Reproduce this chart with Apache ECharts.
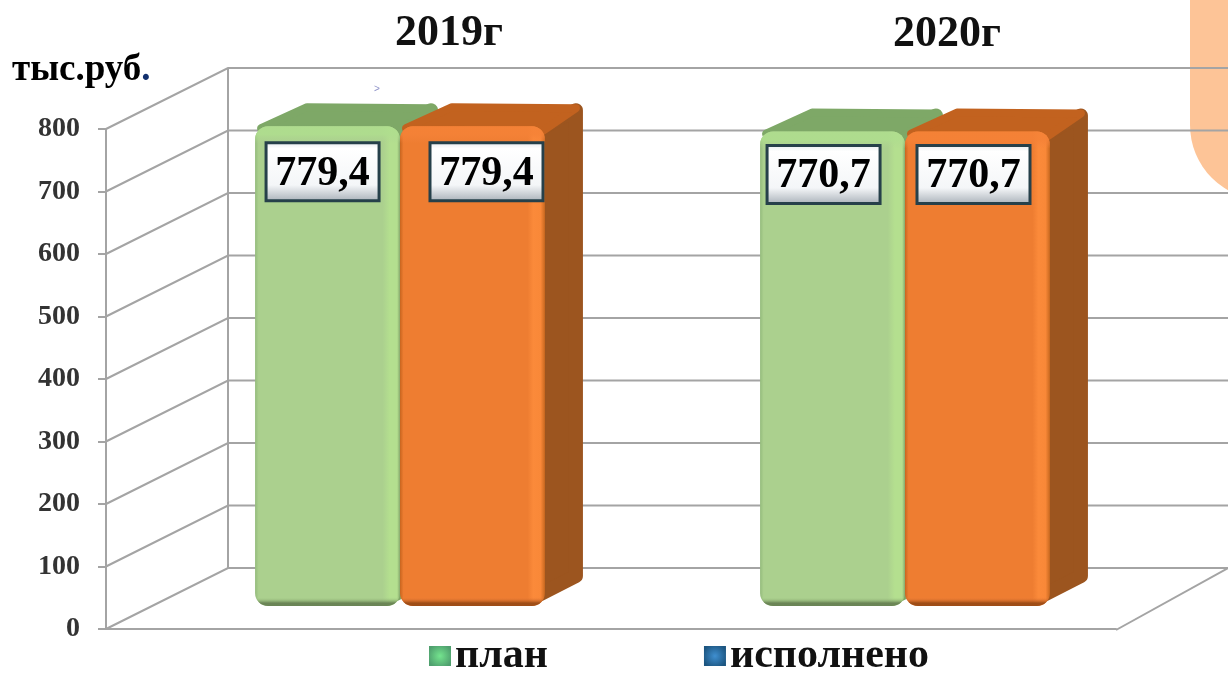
<!DOCTYPE html>
<html><head><meta charset="utf-8">
<style>html,body{margin:0;padding:0;background:#fff}#c{width:1228px;height:673px}</style>
<script src="https://cdn.jsdelivr.net/npm/echarts@6/dist/echarts.min.js"></script>
</head><body><div id="c"></div>
<script>
const categories = ['2019г', '2020г'];
const planValues = [779.4, 770.7];
const doneValues = [779.4, 770.7];
const yTicks = [0, 100, 200, 300, 400, 500, 600, 700, 800];
const seriesNames = ['план', 'исполнено'];
const unitLabel = 'тыс.руб';

const SERIF = '"Liberation Serif","Times New Roman",serif';
const WALL = [122, -61];      // depth of the back wall
const BAR_D = [46, -23];      // offset of bar front plane from the front axis plane
const BAR_DEPTH = [38, -23];  // depth of each bar
const GRID = '#a4a4a4';
const LABEL_DX = {plan: [11, 7], done: [30, 12]};
const LABEL_DY = [16.5, 14];

const chart = echarts.init(document.getElementById('c'), null, {renderer: 'canvas'});
const lg = (stops, horiz) => ({type: 'linear', x: 0, y: 0, x2: horiz ? 1 : 0, y2: horiz ? 0 : 1,
  colorStops: stops.map(s => ({offset: s[0], color: s[1]}))});
const rg = (inner, outer) => ({type: 'radial', x: 0.5, y: 0.5, r: 0.62,
  colorStops: [{offset: 0, color: inner}, {offset: 1, color: outer}]});

function renderWalls(params, api) {
  const v = api.value(0);
  const p = api.coord([0, v]);
  const x0 = params.coordSys.x, xr = params.coordSys.x + params.coordSys.width;
  const y = p[1];
  const line = {stroke: GRID, lineWidth: 2, fill: null};
  const ch = [
    {type: 'polyline', shape: {points: [[x0, y], [x0 + WALL[0], y + WALL[1]], [1228, y + WALL[1]]]}, style: line}
  ];
  if (v === 0) {
    ch.push({type: 'line', shape: {x1: xr, y1: y + 1, x2: 1228, y2: y + WALL[1]}, style: line});
    const top = api.coord([0, 800])[1];
    ch.push({type: 'line', shape: {x1: x0 + WALL[0], y1: y + WALL[1], x2: x0 + WALL[0], y2: top + WALL[1]}, style: line});
  }
  return {type: 'group', children: ch, silent: true};
}

function renderBar(pal, side, labelDx) {
  return function (params, api) {
    const cat = api.value(0), val = api.value(1);
    const base = api.coord([cat, 0]), top = api.coord([cat, val]);
    const w = api.size([1, 0])[0] * 0.287;
    const cx = base[0] + 41.5;
    const x = side < 0 ? cx - w : cx;
    const yb = base[1] + BAR_D[1];
    const yt = yb - (base[1] - top[1]) * 0.985;
    const dx = BAR_DEPTH[0], dy = BAR_DEPTH[1];
    const r = 13;
    const h = yb - yt;
    const round = (fill, lw) => ({fill, stroke: fill, lineWidth: lw || 8, lineJoin: 'round'});
    const text = String(val).replace('.', ',');
    const bw = 113, bh = 58;
    const bx = x + labelDx[cat], by = yt + LABEL_DY[cat];
    return {type: 'group', children: [
      {type: 'polygon', shape: {points: [[x + w - 10, yt + 6], [x + w + dx - 7, yt + dy + 7], [x + w + dx - 7, yb + dy - 7], [x + w - 14, yb - 7]]}, style: round(pal.side, 14)},
      {type: 'polygon', shape: {points: [[x + 6, yt + 2], [x + dx + 14, yt + dy + 4], [x + w + dx - 7, yt + dy + 5], [x + w - 4, yt + 6]]}, style: round(pal.top)},
      {type: 'rect', shape: {x: x, y: yt, width: w, height: h, r}, style: {fill: lg(pal.face, true)}},
      {type: 'rect', shape: {x: x, y: yt, width: w, height: h, r}, style: {fill: lg([[0, pal.hi], [8 / h, pal.hi], [17 / h, pal.clear], [1 - 9 / h, pal.clear], [1 - 3 / h, pal.lo], [1, pal.lo]])}},
      {type: 'rect', shape: {x: bx, y: by, width: bw, height: bh}, style: {
        fill: lg([[0, '#e4e8ec'], [0.12, '#ffffff'], [0.72, '#f4f6f8'], [1, '#a6aeb6']]), stroke: '#26404a', lineWidth: 3}},
      {type: 'text', style: {x: bx + bw / 2, y: by + bh / 2 + 2, text, align: 'center', verticalAlign: 'middle',
        font: 'bold 42px ' + SERIF, fill: '#000'}}
    ]};
  };
}

const greenPal = {side: '#7ea765', top: '#7ea867', clear: 'rgba(175,215,145,0)', hi: 'rgba(175,222,142,0.85)', lo: 'rgba(100,125,80,0.9)',
  face: [[0, '#94bb7c'], [0.025, '#abd08e'], [0.88, '#abd08e'], [0.93, '#b4df8f'], [0.98, '#b4df8f'], [1, '#86a86d']]};
const orangePal = {side: '#9c551f', top: '#c2621f', clear: 'rgba(245,130,60,0)', hi: 'rgba(245,130,55,0.85)', lo: 'rgba(150,72,20,0.9)',
  face: [[0, '#c8651f'], [0.025, '#ee7d31'], [0.88, '#ee7d31'], [0.92, '#fb8a3a'], [0.97, '#f98838'], [1, '#c8681f']]};

chart.setOption({
  animation: false,
  backgroundColor: '#fff',
  title: [
    {text: categories[0], left: 390, top: 7, textStyle: {fontFamily: SERIF, fontWeight: 'bold', fontSize: 44, color: '#111'}},
    {text: categories[1], left: 888, top: 8, textStyle: {fontFamily: SERIF, fontWeight: 'bold', fontSize: 44, color: '#111'}},
    {text: '{a|' + unitLabel + '}{b|.}', left: 7, top: 47, textStyle: {rich: {
      a: {fontFamily: SERIF, fontWeight: 'bold', fontSize: 37, color: '#000'},
      b: {fontFamily: SERIF, fontWeight: 'bold', fontSize: 37, color: '#12306e'}}}}
  ],
  legend: {
    left: 424, top: 630, itemWidth: 22, itemHeight: 20, itemGap: 156, icon: 'rect',
    textStyle: {fontFamily: SERIF, fontWeight: 'bold', fontSize: 42, color: '#111', padding: [8, 0, 0, -1]},
    data: [
      {name: seriesNames[0], itemStyle: {color: rg('#74e48e', '#4f9f6e')}},
      {name: seriesNames[1], itemStyle: {color: rg('#3f8fd0', '#1c5580')}}
    ]
  },
  grid: {left: 106, right: 112, top: 129, bottom: 44},
  xAxis: {type: 'category', data: categories, axisLine: {lineStyle: {color: GRID, width: 2}}, axisTick: {show: false}, axisLabel: {show: false}},
  yAxis: {type: 'value', min: 0, max: 800, interval: 100, splitLine: {show: false},
    axisLine: {show: true, lineStyle: {color: GRID, width: 2}},
    axisTick: {show: true, length: 8, lineStyle: {color: GRID, width: 2}},
    axisLabel: {margin: 26, fontFamily: SERIF, fontWeight: 'bold', fontSize: 28, color: '#333', padding: [4, 0, 0, 0]}},
  series: [
    {name: 'walls', type: 'custom', data: yTicks.map(v => [v]), encode: {y: 0}, renderItem: renderWalls, z: 1, clip: false, silent: true},
    {name: seriesNames[0], type: 'custom', data: planValues.map((v, i) => [i, v]), encode: {x: 0, y: 1}, renderItem: renderBar(greenPal, -1, LABEL_DX.plan), z: 3, clip: false, itemStyle: {color: '#a9d18e'}},
    {name: seriesNames[1], type: 'custom', data: doneValues.map((v, i) => [i, v]), encode: {x: 0, y: 1}, renderItem: renderBar(orangePal, 1, LABEL_DX.done), z: 4, clip: false, itemStyle: {color: '#2e75b6'}}
  ],
  graphic: [
    {type: 'rect', z: -1, silent: true, shape: {x: 1190, y: -200, width: 200, height: 400, r: 75}, style: {fill: '#fdc497'}},
    {type: 'text', silent: true, style: {x: 374, y: 84, text: '>', font: '10px sans-serif', fill: '#8f93c8'}}
  ]
});
</script></body></html>
